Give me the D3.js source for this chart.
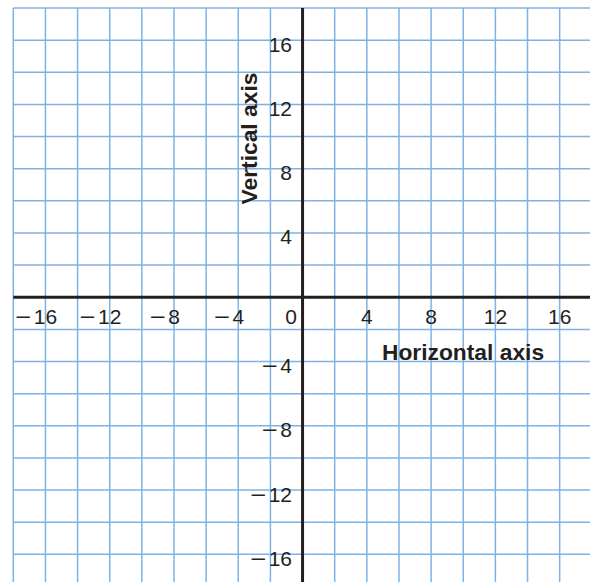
<!DOCTYPE html>
<html>
<head>
<meta charset="utf-8">
<script src="https://cdn.jsdelivr.net/npm/d3@7"></script>
<style>
  html, body { margin: 0; padding: 0; background: #fff; }
  svg { display: block; }
  text { font-family: "Liberation Sans", Arial, Helvetica, sans-serif; fill: #231f20; }
</style>
</head>
<body>
<svg id="chart" width="590" height="582"></svg>
<script>
// ---- data ----
const gridX = [-18, -16, -14, -12, -10, -8, -6, -4, -2, 0, 2, 4, 6, 8, 10, 12, 14, 16, 18];
const gridY = [-18, -16, -14, -12, -10, -8, -6, -4, -2, 0, 2, 4, 6, 8, 10, 12, 14, 16, 18];
const xTickValues = [-16, -12, -8, -4, 4, 8, 12, 16];
const yTickValues = [16, 12, 8, 4, -4, -8, -12, -16];
const originLabel = "0";
const xTitle = "Horizontal axis";
const yTitle = "Vertical axis";

// ---- layout ----
const W = 590, H = 582;
const svg = d3.select("#chart");
const x = d3.scaleLinear().domain([-18, 18]).range([13.3, 591.8]);
const y = d3.scaleLinear().domain([18, -18]).range([8, 586.5]);

const gridColor = "#7fb2e4";
const axisColor = "#231f20";

// grid
svg.append("g").selectAll("line").data(gridX.filter(d => d !== 0)).join("line")
  .attr("x1", d => x(d)).attr("x2", d => x(d))
  .attr("y1", y(18)).attr("y2", H)
  .attr("stroke", gridColor).attr("stroke-width", 1.5);
svg.append("g").selectAll("line").data(gridY.filter(d => d !== 0)).join("line")
  .attr("y1", d => y(d)).attr("y2", d => y(d))
  .attr("x1", x(-18)).attr("x2", W)
  .attr("stroke", gridColor).attr("stroke-width", 1.5);

// axes
svg.append("line").attr("x1", x(-18)).attr("x2", W).attr("y1", y(0)).attr("y2", y(0))
  .attr("stroke", axisColor).attr("stroke-width", 3);
svg.append("line").attr("x1", x(0)).attr("x2", x(0)).attr("y1", y(18)).attr("y2", H)
  .attr("stroke", axisColor).attr("stroke-width", 3);

const fs = 21;
const gap = 4;
const minusLen = 16;
const minus = "\u2212";

function addMinus(g, xr, yb) {
  const r = xr + 1.5;
  g.append("text").attr("x", r - minusLen).attr("y", yb)
    .attr("text-anchor", "start").attr("font-size", fs)
    .attr("textLength", minusLen).attr("lengthAdjust", "spacingAndGlyphs")
    .text(minus);
}

// x tick labels: digits centered on tick, minus hangs left
const xl = svg.append("g");
const xBase = y(0) + 26.5;
xTickValues.forEach(v => {
  const t = xl.append("text").attr("x", x(v)).attr("y", xBase)
    .attr("text-anchor", "middle").attr("font-size", fs).text(Math.abs(v));
  if (v < 0) {
    const w = t.node().getComputedTextLength();
    addMinus(xl, x(v) - w / 2 - gap, xBase);
  }
});
svg.append("text").attr("x", x(0) - 5.5).attr("y", xBase)
  .attr("text-anchor", "end").attr("font-size", fs).text(originLabel);

// y tick labels: digits right-aligned left of axis
const yl = svg.append("g");
yTickValues.forEach(v => {
  const tx = x(0) - 10.5;
  const yb = y(v) + 11.5;
  const t = yl.append("text").attr("x", tx).attr("y", yb)
    .attr("text-anchor", "end").attr("font-size", fs).text(Math.abs(v));
  if (v < 0) {
    const w = t.node().getComputedTextLength();
    addMinus(yl, tx - w - gap, yb);
  }
});

// titles
svg.append("text").attr("x", 463).attr("y", 360)
  .attr("text-anchor", "middle").attr("font-size", 22.8).attr("font-weight", "bold")
  .text(xTitle);
svg.append("text").attr("transform", "translate(256.5,138.5) rotate(-90)")
  .attr("text-anchor", "middle").attr("font-size", 22.8).attr("font-weight", "bold")
  .text(yTitle);
</script>
</body>
</html>
